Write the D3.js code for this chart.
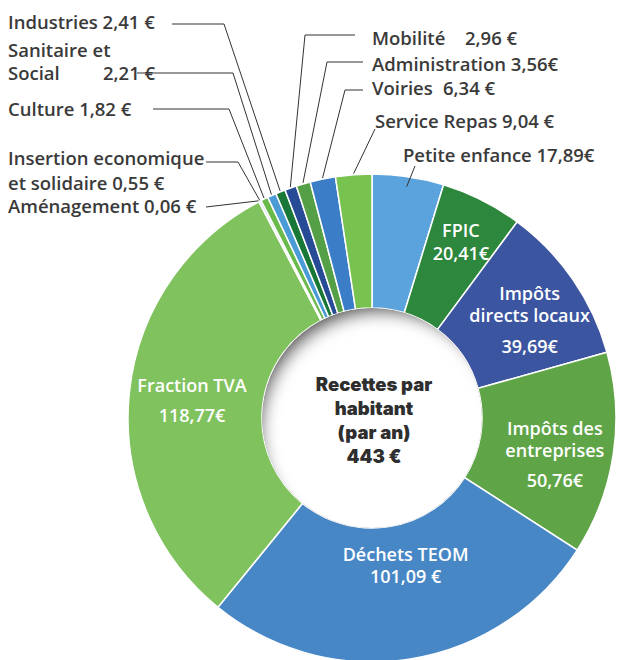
<!DOCTYPE html>
<html>
  <head>
  <meta charset="utf-8">
  <title>Recettes par habitant</title>
  </head>
  <body>

  <svg id="svg" width="617" height="660"></svg>

  <script src="https://d3js.org/d3.v7.min.js"></script>
  <script>
        // slices, clockwise from 12 o'clock
        const categories = ['Petite enfance', 'FPIC', 'Impôts directs locaux', 'Impôts des entreprises',
            'Déchets TEOM', 'Fraction TVA', 'Aménagement', 'Insertion economique et solidaire',
            'Culture', 'Sanitaire et Social', 'Industries', 'Mobilité', 'Administration',
            'Voiries', 'Service Repas']
        const values = [17.89, 20.41, 39.69, 50.76, 101.09, 118.77, 0.06, 0.55,
            1.82, 2.21, 2.41, 2.96, 3.56, 6.34, 9.04]
        const valueLabels = ['17,89€', '20,41€', '39,69€', '50,76€', '101,09 €', '118,77€', '0,06 €', '0,55 €',
            '1,82 €', '2,21 €', '2,41 €', '2,96 €', '3,56€', '6,34 €', '9,04 €']
        const centerLines = ['Recettes par', 'habitant', '(par an)', '443 €']

        const palette = ['#5ba3dc', '#2d873c', '#3c55a0', '#5fa548', '#4887c6', '#80c25e', '#dcebf5', '#bcd7ec',
            '#69b94b', '#4b9bd7', '#197837', '#284b96', '#55a046', '#3c7dc8', '#78c350']

        const cx = 372, cy = 418, rOuter = 244, rInner = 110
        const svg = d3.select('#svg')
        const g = svg.append('g').attr('transform', `translate(${cx},${cy})`)

        const color = d3.scaleOrdinal().domain(categories).range(palette)
        const pie = d3.pie().sort(null).value(d => d.value)
        const data = categories.map((c, i) => ({ name: c, value: values[i], label: valueLabels[i] }))
        const arcs = pie(data)
        const arc = d3.arc().innerRadius(rInner).outerRadius(rOuter)

        g.selectAll('path.slice')
            .data(arcs)
            .join('path')
            .attr('class', 'slice')
            .attr('d', arc)
            .attr('fill', d => color(d.data.name))
            .attr('stroke', '#fff')
            .attr('stroke-width', 1.5)

        // hole with inner shadow
        const defs = svg.append('defs')
        defs.append('clipPath').attr('id', 'hole')
            .append('circle').attr('r', rInner)
        const blur = defs.append('filter').attr('id', 'blur')
            .attr('x', '-50%').attr('y', '-50%').attr('width', '200%').attr('height', '200%')
        blur.append('feGaussianBlur').attr('stdDeviation', 9)
        const hole = g.append('g').attr('clip-path', 'url(#hole)')
        hole.append('circle').attr('r', rInner).attr('fill', '#444')
        hole.append('circle').attr('r', rInner + 12).attr('cx', 9).attr('cy', 14)
            .attr('fill', '#fff').attr('filter', 'url(#blur)')

        g.selectAll('text.center')
            .data(centerLines)
            .join('text')
            .attr('class', 'center')
            .attr('x', 2)
            .attr('y', (d, i) => -27 + i * 24)
            .attr('text-anchor', 'middle')
            .attr('font-family', 'Inter, Lato, sans-serif')
            .attr('font-weight', 900)
            .attr('font-size', 18.5)
            .attr('fill', '#2e2e2e')
            .text(d => d)

        // labels inside the ring
        const inside = {
            'FPIC': { r: 195, lines: d => ['FPIC', d.label], dy: [0, 23], shift: [1, -7] },
            'Impôts directs locaux': { r: 195, lines: d => ['Impôts', 'directs locaux', d.label], dy: [0, 22, 53], shift: [-3, -7] },
            'Impôts des entreprises': { r: 195, lines: d => ['Impôts des', 'entreprises', d.label], dy: [0, 22, 52], shift: [-10, -12] },
            'Déchets TEOM': { r: 150, lines: d => ['Déchets TEOM', d.label], dy: [0, 22], shift: [10, -5] },
            'Fraction TVA': { r: 195, lines: d => ['Fraction TVA', d.label], dy: [0, 30], shift: [14, -6] }
        }
        arcs.filter(d => inside[d.data.name]).forEach(d => {
            const o = inside[d.data.name]
            const [x, y] = d3.arc().innerRadius(o.r).outerRadius(o.r).centroid(d)
            o.lines(d.data).forEach((t, i) => {
                g.append('text')
                    .attr('x', x + o.shift[0])
                    .attr('y', y + o.shift[1] + o.dy[i])
                    .attr('text-anchor', 'middle')
                    .attr('font-family', "'Open Sans', sans-serif")
                    .attr('font-weight', 600)
                    .attr('font-size', 18)
                    .attr('fill', '#fff')
                    .text(t)
            })
        })

        // outside labels with leader lines (page coordinates)
        const outside = {
            'Industries': { lines: d => [[8, 29, 'Industries ' + d.label]], path: [[172, 24], [224, 24]], r: rOuter + 1 },
            'Sanitaire et Social': { lines: d => [[8, 57, 'Sanitaire et'], [8, 80, 'Social'], [103, 80, d.label]], path: [[137, 73], [233, 73]], r: rOuter + 1 },
            'Culture': { lines: d => [[8, 116, 'Culture ' + d.label]], path: [[153, 109], [229, 109]], r: rOuter + 1 },
            'Insertion economique et solidaire': { lines: d => [[8, 165, 'Insertion economique'], [8, 190, 'et solidaire ' + d.label]], path: [[206, 162], [238, 162]], r: rOuter + 1 },
            'Aménagement': { lines: d => [[8, 213, 'Aménagement ' + d.label]], path: [[206, 207]], r: rOuter + 1 },
            'Mobilité': { lines: d => [[372, 45, 'Mobilité'], [465, 45, d.label]], path: [[355, 35], [305, 35]], r: rOuter + 1 },
            'Administration': { lines: d => [[372, 71, 'Administration ' + d.label]], path: [[363, 62], [327, 62]], r: rOuter + 1 },
            'Voiries': { lines: d => [[372, 95, 'Voiries'], [443, 95, d.label]], path: [[363, 90], [345, 90]], r: rOuter + 1 },
            'Service Repas': { lines: d => [[375, 128, 'Service Repas ' + d.label]], path: [[375, 129]], r: rOuter + 1 },
            'Petite enfance': { lines: d => [[403, 162, 'Petite enfance ' + d.label]], path: [[415, 166]], r: rOuter - 10 }
        }
        const linegen = d3.line()
        arcs.filter(d => outside[d.data.name]).forEach(d => {
            const o = outside[d.data.name]
            const [ex, ey] = d3.arc().innerRadius(o.r).outerRadius(o.r).centroid(d)
            svg.append('path')
                .attr('d', linegen([...o.path, [cx + ex, cy + ey]]))
                .attr('fill', 'none')
                .attr('stroke', '#333')
                .attr('stroke-width', 1)
            o.lines(d.data).forEach(([x, y, t]) => {
                svg.append('text')
                    .attr('x', x)
                    .attr('y', y)
                    .attr('font-family', "'Open Sans', sans-serif")
                    .attr('font-weight', 600)
                    .attr('font-size', 18.5)
                    .attr('fill', '#3a3a3a')
                    .text(t)
            })
        })
  </script>
  <style>
    body, html {
      margin: 0;
      padding: 0;
      background: #fff;
    }
    #svg {
      display: block;
    }
  </style>
  </body>
</html>
